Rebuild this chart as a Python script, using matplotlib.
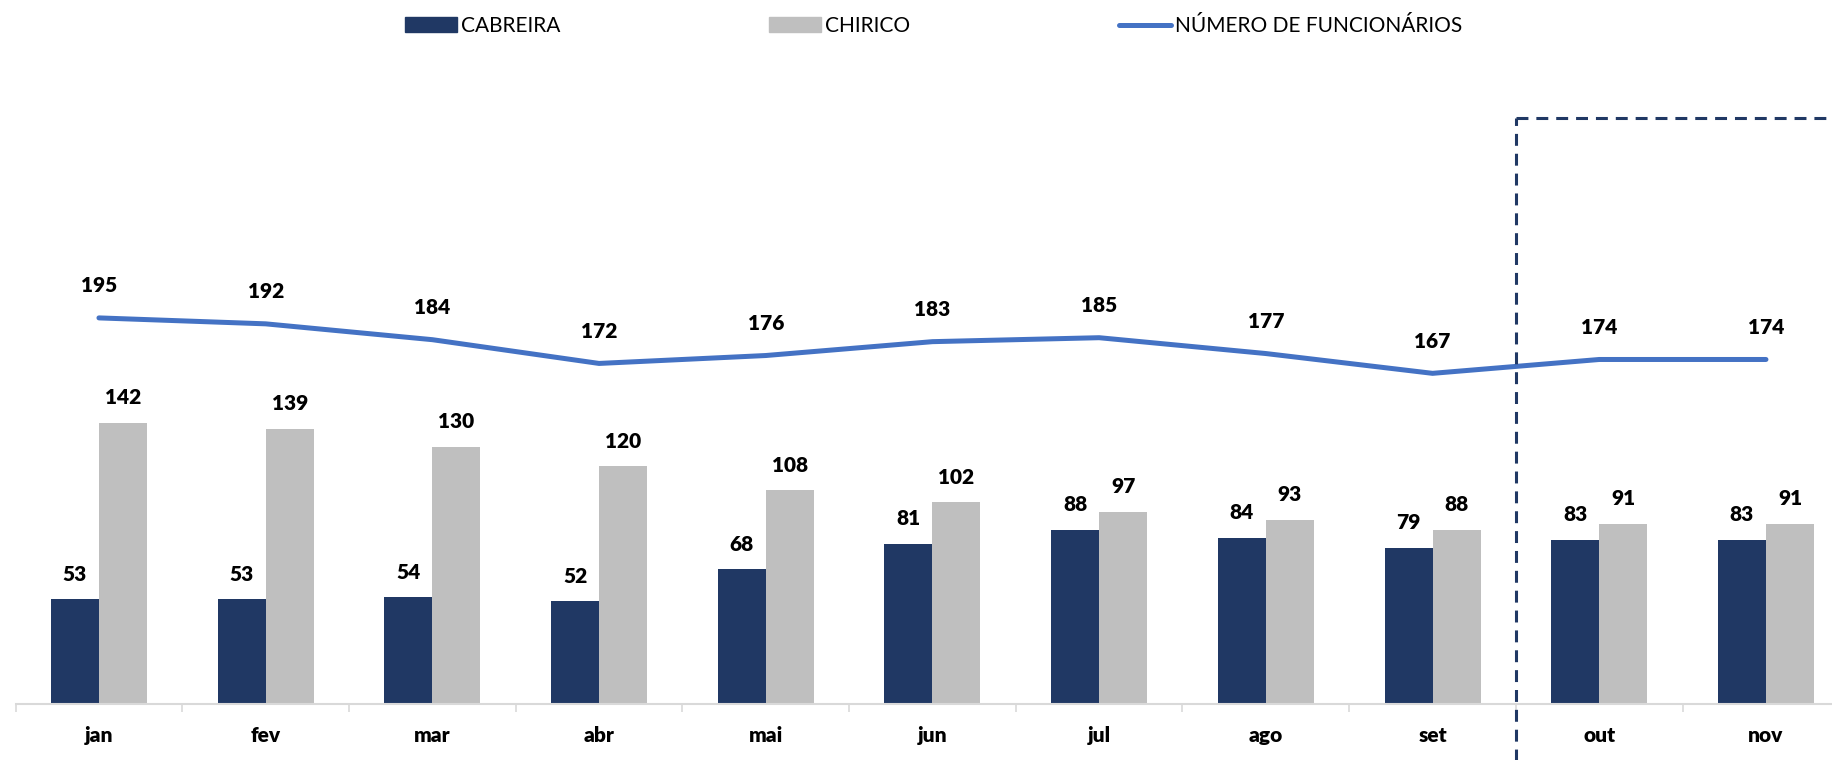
import matplotlib
matplotlib.use("Agg")
import matplotlib.pyplot as plt
import numpy as np
from matplotlib.lines import Line2D
from matplotlib.patches import Patch

plt.rcParams['font.family'] = ['Lato', 'DejaVu Sans']

months = ["jan", "fev", "mar", "abr", "mai", "jun", "jul", "ago", "set", "out", "nov"]
cabreira = [53, 53, 54, 52, 68, 81, 88, 84, 79, 83, 83]
chirico = [142, 139, 130, 120, 108, 102, 97, 93, 88, 91, 91]
funcionarios = [195, 192, 184, 172, 176, 183, 185, 177, 167, 174, 174]
series_names = ["CABREIRA", "CHIRICO", "NÚMERO DE FUNCIONÁRIOS"]

c_cab = "#203864"
c_chi = "#BFBFBF"
c_line = "#4472C4"
c_axis = "#D9D9D9"

W, H = 1832, 760
fig = plt.figure(figsize=(W / 100, H / 100), dpi=100)
left_px, cat_px, base_px = 15.6, 166.7, 704
ymax = 300
px_per_unit = 1.98
ax = fig.add_axes([left_px / W, (H - base_px) / H, 11 * cat_px / W, ymax * px_per_unit / H])

x = np.arange(len(months))
bw = 0.288
ax.bar(x - bw / 2, cabreira, bw, color=c_cab, zorder=2)
ax.bar(x + bw / 2, chirico, bw, color=c_chi, zorder=2)
ax.plot(x, funcionarios, color=c_line, lw=3.6, solid_capstyle='round', zorder=3)

lab_kw = dict(ha='center', va='center', fontsize=15, fontweight='heavy', color='black',
              textcoords='offset points')
for xi, v in zip(x, cabreira):
    ax.annotate(str(v), (xi - bw / 2, v), xytext=(0, 18), **lab_kw)
for xi, v in zip(x, chirico):
    ax.annotate(str(v), (xi + bw / 2, v), xytext=(0, 18), **lab_kw)
for xi, v in zip(x, funcionarios):
    ax.annotate(str(v), (xi, v), xytext=(0, 23), **lab_kw)

ax.set_xlim(-0.5, len(months) - 0.5)
ax.set_ylim(0, ymax)
ax.set_xticks(x)
ax.set_xticklabels(months, fontsize=15, fontweight='heavy')
ax.set_xticks(np.arange(-0.5, len(months)), minor=True)
ax.tick_params(axis='x', which='major', length=0, pad=16)
ax.tick_params(axis='x', which='minor', length=6, width=1.2, color=c_axis)
ax.set_yticks([])
for s in ['top', 'right', 'left']:
    ax.spines[s].set_visible(False)
ax.spines['bottom'].set_color(c_axis)
ax.spines['bottom'].set_linewidth(1.5)

# dashed forecast box
dash_kw = dict(color=c_cab, lw=2.2, dashes=(3.9, 2.6), clip_on=False, zorder=4)
ax.plot([8.5, 8.5], [-30, 296], **dash_kw)
ax.plot([8.5, 10.7], [296, 296], **dash_kw)

handles = [Patch(color=c_cab), Patch(color=c_chi),
           Line2D([0], [0], color=c_line, lw=3.6, solid_capstyle='round')]
fig.legend(handles, series_names, loc='center', bbox_to_anchor=(0.5096, 1 - 26 / H),
           ncol=3, frameon=False, fontsize=15, handlelength=2.5, handleheight=0.7,
           handletextpad=0.2, columnspacing=10.0)

fig.savefig("out.png", dpi=100)
